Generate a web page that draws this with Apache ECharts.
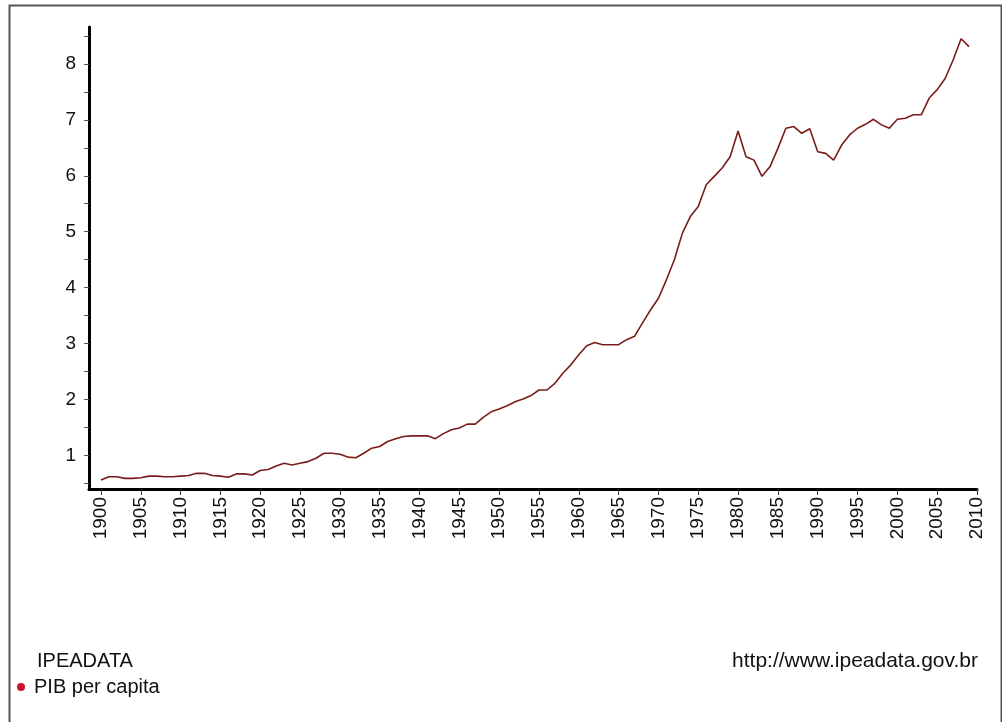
<!DOCTYPE html>
<html>
<head>
<meta charset="utf-8">
<script src="https://cdn.jsdelivr.net/npm/echarts@6/dist/echarts.min.js"></script>
<style>
html,body{margin:0;padding:0;background:#fff;}
#chart{width:1002px;height:722px;}
</style>
</head>
<body>
<div id="chart"></div>
<script>
// PIB per capita (IPEADATA), yearly 1900-2009
const firstYear = 1900;
const pibPerCapita = [
  0.56, 0.62, 0.62, 0.59, 0.59, 0.60, 0.63, 0.63, 0.62, 0.62,
  0.63, 0.64, 0.68, 0.68, 0.64, 0.63, 0.61, 0.67, 0.67, 0.65,
  0.73, 0.75, 0.81, 0.86, 0.83, 0.86, 0.89, 0.95, 1.04, 1.04,
  1.02, 0.97, 0.96, 1.04, 1.13, 1.16, 1.25, 1.30, 1.34, 1.35,
  1.35, 1.35, 1.30, 1.39, 1.46, 1.49, 1.56, 1.56, 1.68, 1.78,
  1.83, 1.89, 1.96, 2.01, 2.07, 2.17, 2.17, 2.29, 2.47, 2.62,
  2.80, 2.96, 3.02, 2.98, 2.98, 2.98, 3.07, 3.13, 3.37, 3.60,
  3.81, 4.14, 4.50, 4.97, 5.27, 5.45, 5.84, 5.99, 6.14, 6.34,
  6.80, 6.34, 6.28, 5.99, 6.16, 6.49, 6.85, 6.88, 6.76, 6.84,
  6.43, 6.40, 6.28, 6.55, 6.73, 6.85, 6.92, 7.01, 6.91, 6.85,
  7.01, 7.03, 7.09, 7.09, 7.39, 7.54, 7.74, 8.07, 8.45, 8.31
];
const xTickYears = [1900,1905,1910,1915,1920,1925,1930,1935,1940,1945,1950,1955,
  1960,1965,1970,1975,1980,1985,1990,1995,2000,2005,2010];
const yTickLabels = [1,2,3,4,5,6,7,8];
const yTickMarks = [0.5,1,1.5,2,2.5,3,3.5,4,4.5,5,5.5,6,6.5,7,7.5,8,8.5];
const seriesName = 'PIB per capita';
const sourceName = 'IPEADATA';
const sourceUrl = 'http://www.ipeadata.gov.br';

const points = pibPerCapita.map((v, i) => [firstYear + i, v]);
const font = '"Liberation Sans", Arial, sans-serif';

const chart = echarts.init(document.getElementById('chart'));
chart.setOption({
  animation: false,
  backgroundColor: '#fff',
  grid: { left: 89, top: 27, right: 25, bottom: 233, containLabel: false },
  title: [
    { text: sourceName, left: 32, top: 646,
      textStyle: { fontFamily: font, fontSize: 20, fontWeight: 'normal', color: '#111' } },
    { text: sourceUrl, right: 19, top: 646,
      textStyle: { fontFamily: font, fontSize: 21, fontWeight: 'normal', color: '#111' } }
  ],
  legend: {
    left: 12, top: 672, itemWidth: 8, itemHeight: 8, itemGap: 4,
    icon: 'circle',
    data: [{ name: seriesName, itemStyle: { color: '#c8102e' } }],
    textStyle: { fontFamily: font, fontSize: 20, color: '#111', padding: [0,0,0,4] }
  },
  graphic: [
    { type: 'rect', left: 7, top: 3, shape: { width: 992, height: 740 },
      style: { fill: 'none', stroke: '#555', lineWidth: 2 }, silent: true }
  ],
  xAxis: {
    type: 'value', min: 1898.5, max: 2010,
    splitLine: { show: false },
    axisLine: { lineStyle: { color: '#000', width: 3 } },
    axisTick: { customValues: xTickYears, length: 6, lineStyle: { color: '#333', width: 1 } },
    axisLabel: { customValues: xTickYears, rotate: 90, margin: 8, fontFamily: font, fontSize: 19, color: '#111',
      formatter: v => String(v) }
  },
  yAxis: {
    type: 'value', min: 0.4, max: 8.66,
    splitLine: { show: false },
    axisLine: { show: true, lineStyle: { color: '#000', width: 3 } },
    axisTick: { show: true, customValues: yTickMarks, length: 5, lineStyle: { color: '#555', width: 1 } },
    axisLabel: { customValues: yTickLabels, margin: 13, fontFamily: font, fontSize: 19, color: '#111' }
  },
  series: [{
    name: seriesName, type: 'line', data: points, showSymbol: false, symbol: 'none',
    lineStyle: { color: '#7a1c1c', width: 1.6 },
    itemStyle: { color: '#c8102e' }
  }]
});
</script>
</body>
</html>
